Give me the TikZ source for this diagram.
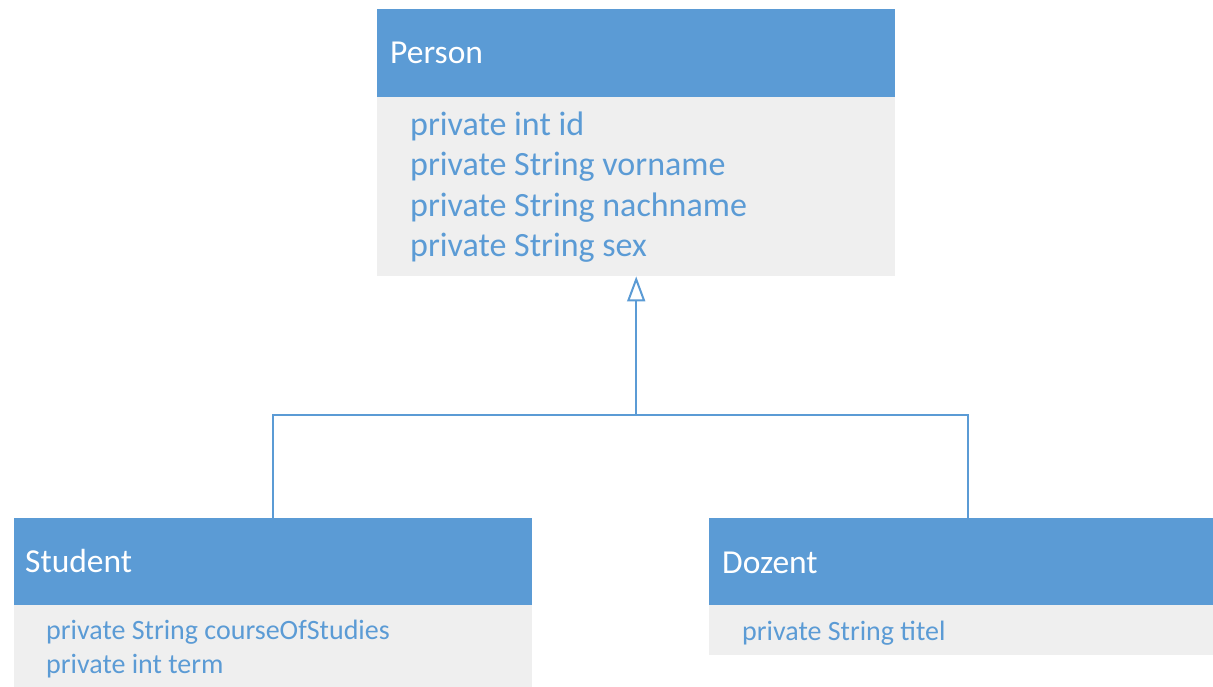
\documentclass[tikz,border=0pt]{standalone}
\usepackage{fontspec}
\setmainfont{Carlito}
\usetikzlibrary{arrows.meta}
\definecolor{umlblue}{RGB}{91,155,213}
\definecolor{umlgray}{RGB}{239,239,239}
\tikzset{
  header/.style={fill=umlblue, draw=none, anchor=north west, minimum width=518pt, minimum height=88pt, inner sep=0pt},
  attrbox/.style={fill=umlgray, draw=none, anchor=north west, minimum width=518pt, inner sep=0pt},
  title/.style={anchor=base west, text=white, inner sep=0pt, font=\fontsize{33.5}{40}\selectfont},
  bigattr/.style={anchor=base west, text=umlblue, inner sep=0pt, font=\fontsize{34}{40}\selectfont},
  smallattr/.style={anchor=base west, text=umlblue, inner sep=0pt, font=\fontsize{28}{33}\selectfont},
  conn/.style={draw=umlblue, line width=2pt},
  inherit/.style={conn, -{Triangle[open, length=25pt, width=18pt, fill=white]}},
}
\begin{document}
\begin{tikzpicture}[x=1pt, y=-1pt]
\useasboundingbox (0,0) rectangle (1213,686);
\clip (0,0) rectangle (1213,686);

% Person
\node[header] (personH) at (377,9) {};
\node[attrbox, minimum height=179pt] (personB) at (377,97) {};
\node[title] (personT) at (390,63) {Person};
\node[bigattr] (p1) at (410,135) {private int id};
\node[bigattr] (p2) at (410,175) {private String vorname};
\node[bigattr] (p3) at (410,216) {private String nachname};
\node[bigattr] (p4) at (410,256) {private String sex};

% Student
\node[header, minimum height=87pt] (studentH) at (14,518) {};
\node[attrbox, minimum height=90pt] (studentB) at (14,605) {};
\node[title] (studentT) at (25,572) {Student};
\node[smallattr] (s1) at (46,639) {private String courseOfStudies};
\node[smallattr] (s2) at (46,673) {private int term};

% Dozent
\node[header, minimum height=87pt] (dozentH) at (709,518) {};
\node[attrbox, minimum height=50pt] (dozentB) at (709,605) {};
\node[title] (dozentT) at (722,573) {Dozent};
\node[smallattr] (d1) at (742,640) {private String titel};

% Generalisation
\coordinate (junc) at (personB.south |- 0,415);
\draw[conn] (studentH.north) |- (junc) -| (dozentH.north);
\draw[inherit] (junc) -- (personB.south);
\end{tikzpicture}
\end{document}
